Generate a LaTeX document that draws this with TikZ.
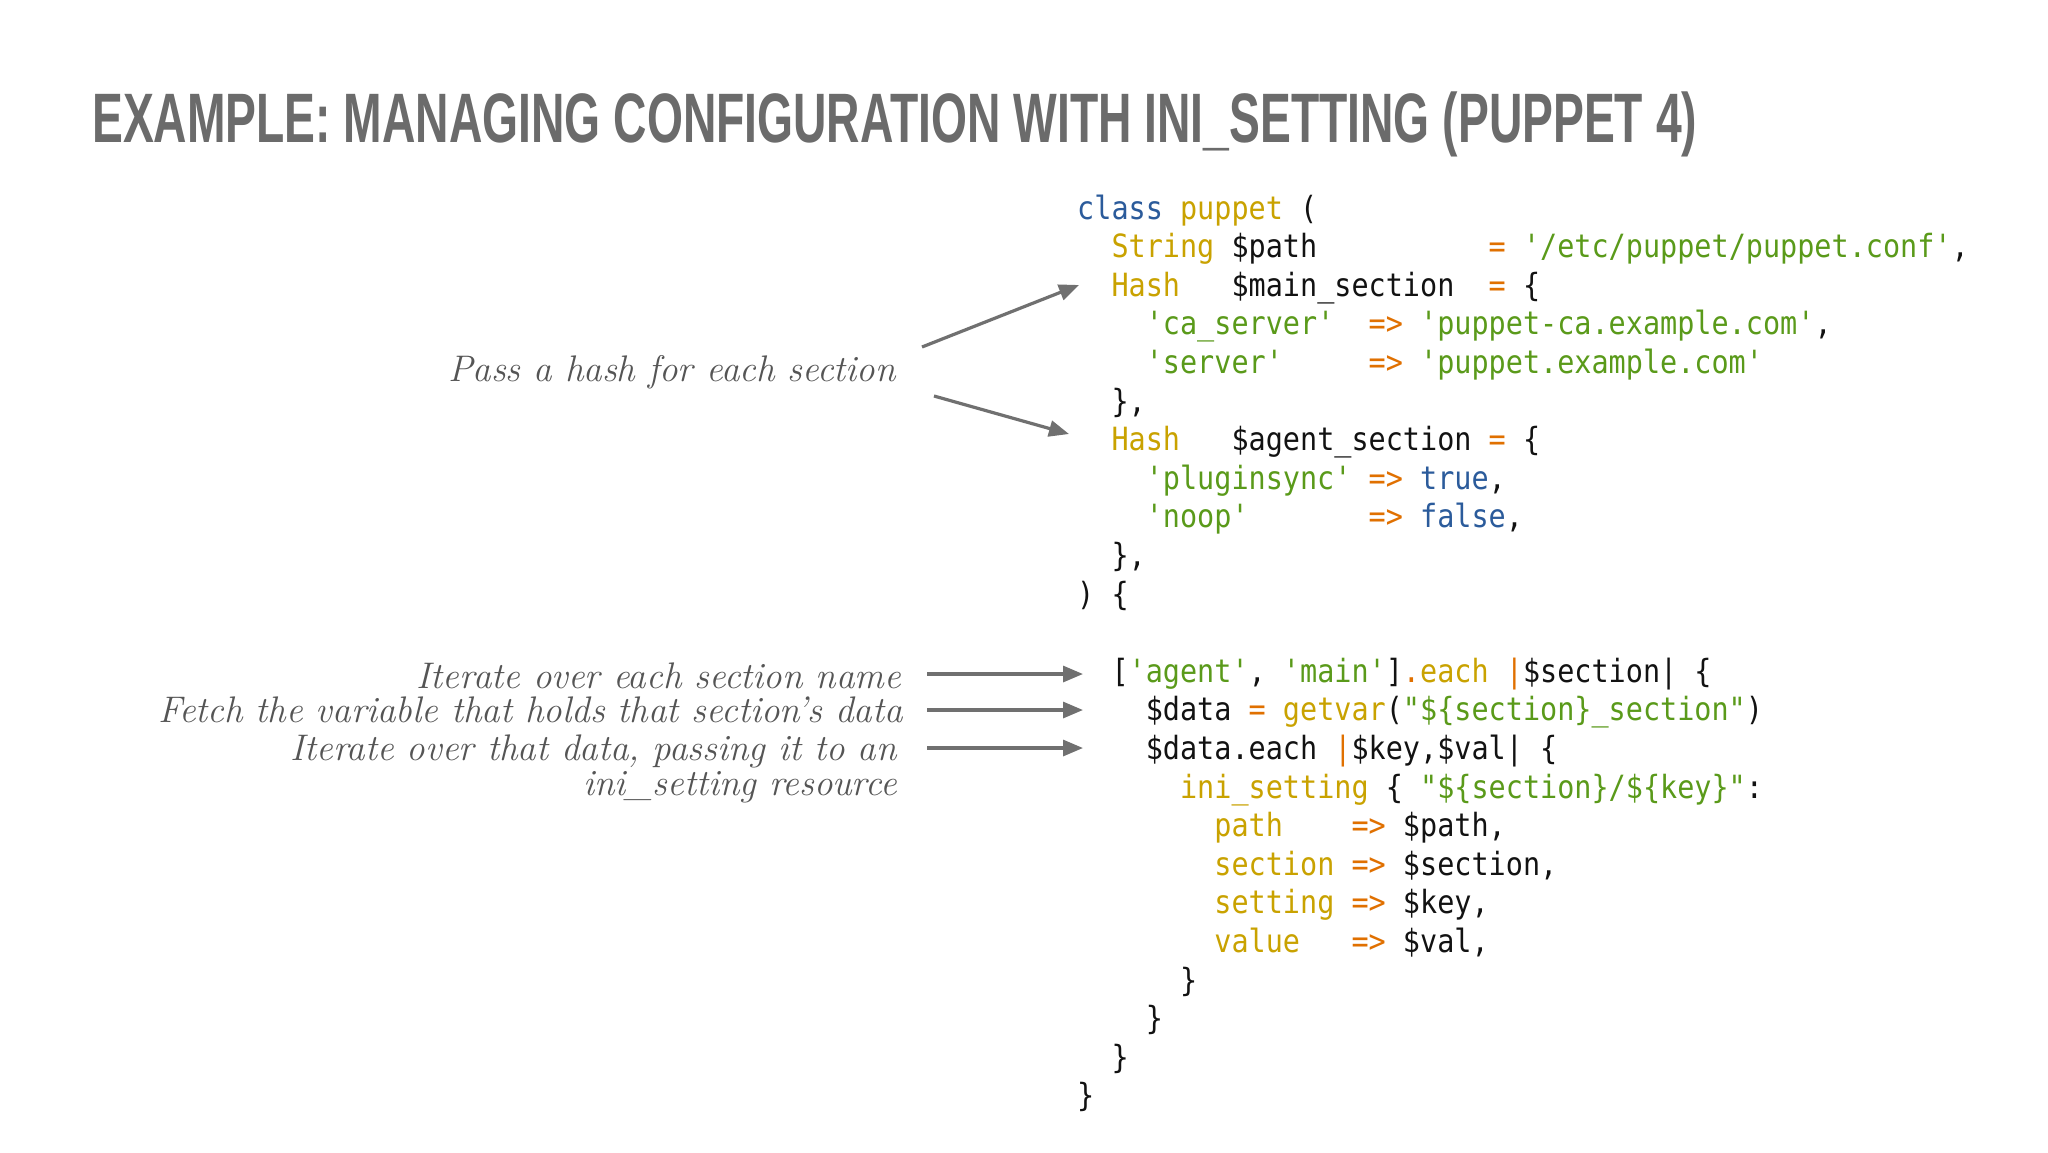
\documentclass[tikz,border=0pt]{standalone}
\usepackage{fontspec}
\newfontfamily\code{DejaVu Sans Mono}
\newfontfamily\titlefont{Liberation Sans}
\usetikzlibrary{arrows.meta}
\definecolor{kwc}{HTML}{2B5B9B}
\definecolor{tyc}{HTML}{C9A200}
\definecolor{stc}{HTML}{5A9A1A}
\definecolor{opc}{HTML}{E07000}
\definecolor{ttlc}{HTML}{6B6B6B}
\definecolor{annc}{HTML}{555555}
\definecolor{arrc}{HTML}{707070}
\newcommand\cK[1]{\textcolor{kwc}{#1}}
\newcommand\cT[1]{\textcolor{tyc}{#1}}
\newcommand\cS[1]{\textcolor{stc}{#1}}
\newcommand\cO[1]{\textcolor{opc}{#1}}
\newcommand\cl[1]{\scalebox{0.89}[1]{\code\fontsize{32}{32}\selectfont\color{black!93}#1}}
\tikzset{
  codeline/.style={anchor=base west,inner sep=0pt},
  ann/.style={anchor=base east,inner sep=0pt,text=annc,font=\fontsize{37}{37}\selectfont\itshape},
  pointer/.style={draw=arrc,line width=3.2pt,-{Triangle[length=20pt,width=16pt]}}
}
\begin{document}
\begin{tikzpicture}[x=1pt,y=-1pt]
\useasboundingbox[fill=white] (0,0) rectangle (2048,1152);
\node[anchor=base west,inner sep=0pt,text=ttlc] (title) at (92,142)
  {\resizebox{1605pt}{\height}{\titlefont\bfseries\fontsize{70}{70}\selectfont EXAMPLE: MANAGING CONFIGURATION WITH INI\_SETTING (PUPPET 4)}};
\def\X{1077}
\def\Y{219}
\def\D{38.6}
\foreach \n/\t in {
 0/{\cK{class}~\cT{puppet}~(},
 1/{~~\cT{String}~\$path~~~~~~~~~~\cO{=}~\cS{'/etc/puppet/puppet.conf'},},
 2/{~~\cT{Hash}~~~\$main\_section~~\cO{=}~\{},
 3/{~~~~\cS{'ca\_server'}~~\cO{=>}~\cS{'puppet-ca.example.com'},},
 4/{~~~~\cS{'server'}~~~~~\cO{=>}~\cS{'puppet.example.com'}},
 5/{~~\},},
 6/{~~\cT{Hash}~~~\$agent\_section~\cO{=}~\{},
 7/{~~~~\cS{'pluginsync'}~\cO{=>}~\cK{true},},
 8/{~~~~\cS{'noop'}~~~~~~~\cO{=>}~\cK{false},},
 9/{~~\},},
 10/{)~\{},
 12/{~~[\cS{'agent'},~\cS{'main'}]\cO{.}\cT{each}~\cO{|}\$section|~\{},
 13/{~~~~\$data~\cO{=}~\cT{getvar}(\cS{"\$\{section\}\_section"})},
 14/{~~~~\$data.each~\cO{|}\$key,\$val|~\{},
 15/{~~~~~~\cT{ini\_setting}~\{~\cS{"\$\{section\}/\$\{key\}"}:},
 16/{~~~~~~~~\cT{path}~~~~\cO{=>}~\$path,},
 17/{~~~~~~~~\cT{section}~\cO{=>}~\$section,},
 18/{~~~~~~~~\cT{setting}~\cO{=>}~\$key,},
 19/{~~~~~~~~\cT{value}~~~\cO{=>}~\$val,},
 20/{~~~~~~\}},
 21/{~~~~\}},
 22/{~~\}},
 23/{\}}}
 {\node[codeline] (l\n) at (\X,\Y+\D*\n) {\cl{\t}};}
\node[ann] (a1) at (896,381) {Pass a hash for each section};
\node[ann] (a2) at (901,688) {Iterate over each section name};
\node[ann] (a3) at (903,722) {Fetch the variable that holds that section’s data};
\node[ann] (a4) at (897,760) {Iterate over that data, passing it to an};
\node[ann] (a5) at (897,795) {ini\_setting resource};
\coordinate (s1) at (922,347); \coordinate (e1) at (1079,285);
\coordinate (s2) at (934,396); \coordinate (e2) at (1069,434);
\coordinate (s3) at (927,674); \coordinate (e3) at (1083,674);
\coordinate (s4) at (927,710); \coordinate (e4) at (1083,710);
\coordinate (s5) at (927,748); \coordinate (e5) at (1083,748);
\draw[pointer] (s1) -- (e1);
\draw[pointer] (s2) -- (e2);
\draw[pointer] (s3) -- (e3);
\draw[pointer] (s4) -- (e4);
\draw[pointer] (s5) -- (e5);
\end{tikzpicture}
\end{document}
